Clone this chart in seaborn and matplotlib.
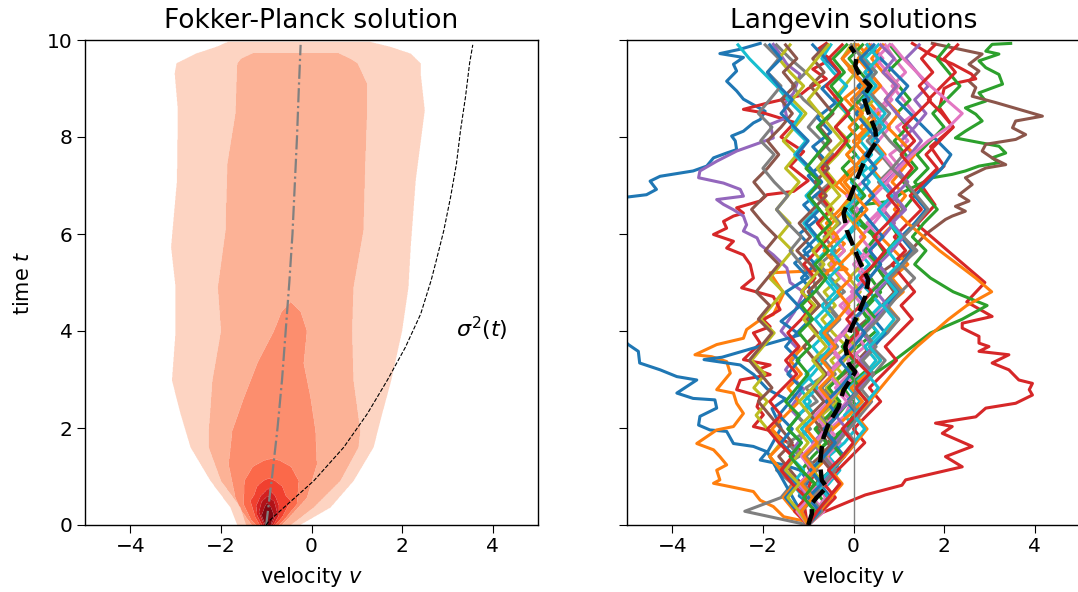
import numpy as np
import pandas as pd
import matplotlib
matplotlib.use("Agg")
import matplotlib.pyplot as plt
import seaborn as sns

# ---------------- Left panel: contour bands of the Fokker-Planck density ----------------
# each level: times, left boundary v, right boundary v
lev1_t = [0.0, 0.36, 0.91, 1.6, 2.29, 2.98, 4.0, 4.9, 5.73, 7.1, 8.55, 9.31, 9.52, 9.72, 9.86, 9.96]
lev1_l = [-1.64, -1.79, -2.23, -2.67, -2.89, -3.08, -3.0, -3.0, -3.1, -2.97, -2.95, -3.02, -2.98, -2.55, -2.1, -1.85]
lev1_r = [-0.25, 0.42, 0.93, 1.37, 1.56, 1.76, 2.0, 2.14, 2.19, 2.3, 2.5, 2.41, 2.41, 2.19, 1.74, 1.3]

lev2_t = [0.0, 0.36, 0.91, 1.6, 1.94, 2.98, 4.0, 4.9, 6.07, 7.45, 8.49, 9.1, 9.52, 9.62, 9.73]
lev2_l = [-1.45, -1.57, -2.0, -2.27, -2.27, -2.19, -2.0, -2.07, -1.9, -1.86, -1.68, -1.66, -1.64, -1.55, -1.3]
lev2_r = [-0.45, 0.05, 0.64, 1.04, 1.08, 0.93, 0.9, 0.93, 1.15, 1.19, 1.23, 1.23, 1.02, 0.85, 0.6]

lev3_t = [0.0, 0.3, 0.56, 1.25, 1.94, 2.63, 3.33, 4.0, 4.4, 4.6]
lev3_l = [-1.32, -1.55, -1.68, -1.83, -1.75, -1.49, -1.2, -0.83, -0.66, -0.46]
lev3_r = [-0.65, -0.35, -0.1, 0.12, 0.09, -0.02, -0.17, -0.1, -0.24, -0.46]

lev4_t = [0.0, 0.1, 0.43, 0.91, 1.2, 1.33, 1.37]
lev4_l = [-1.22, -1.33, -1.5, -1.48, -1.3, -1.05, -0.88]
lev4_r = [-0.72, -0.61, -0.32, -0.28, -0.45, -0.7, -0.88]

lev5_t = [0.0, 0.16, 0.5, 0.61, 0.8, 0.92, 0.96]
lev5_l = [-1.14, -1.24, -1.35, -1.27, -1.2, -1.05, -0.94]
lev5_r = [-0.8, -0.65, -0.46, -0.57, -0.65, -0.82, -0.94]

lev6_t = [0.0, 0.2, 0.4, 0.6, 0.75]
lev6_l = [-1.09, -1.2, -1.22, -1.12, -0.96]
lev6_r = [-0.84, -0.72, -0.72, -0.8, -0.96]

lev7_t = [0.0, 0.27, 0.48, 0.6]
lev7_l = [-1.05, -1.16, -1.1, -0.97]
lev7_r = [-0.88, -0.76, -0.82, -0.97]

lev8_t = [0.0, 0.2, 0.38, 0.46]
lev8_l = [-1.02, -1.1, -1.03, -0.98]
lev8_r = [-0.9, -0.83, -0.9, -0.98]

# mean velocity (dash-dot) and sigma^2 curve (dashed)
mean_t = [0, 1, 2, 3, 4, 5, 6, 7, 8, 9, 9.9]
mean_v = [-1.0, -0.87, -0.75, -0.65, -0.57, -0.49, -0.42, -0.37, -0.32, -0.28, -0.24]

sig_t = [0.0, 0.08, 0.36, 0.91, 1.6, 2.29, 2.98, 3.66, 4.35, 5.04, 5.4, 6.07, 6.76, 7.45, 8.14, 8.83, 9.52, 9.9]
sig_v = [-1.0, -0.94, -0.61, 0.05, 0.71, 1.23, 1.67, 2.07, 2.41, 2.64, 2.74, 2.92, 3.07, 3.2, 3.29, 3.4, 3.49, 3.56]

# ---------------- Right panel: Langevin trajectories ----------------
blue1_t = [0, 0.3, 0.6, 0.9, 1.13, 1.24, 1.34, 1.51, 1.62, 1.68, 1.93, 1.96, 2.06, 2.24, 2.41, 2.58, 2.61, 2.72, 2.99, 3.06,
           3.2, 3.34, 3.58, 3.72, 4.2, 5.0, 6.0, 6.76, 6.81, 6.92, 7.09, 7.19, 7.3, 7.4, 7.57, 7.67, 7.74, 7.92, 8.02, 8.12,
           8.29, 8.36, 8.53, 8.78, 8.95, 9.15, 9.36, 9.5, 9.64, 9.72, 9.81, 9.93]
blue1_v = [-1.0, -0.8, -1.2, -1.0, -1.18, -1.54, -2.06, -1.91, -2.21, -2.65, -2.8, -3.17, -3.42, -3.39, -3.02, -3.06, -3.54, -3.9, -3.46, -3.9,
           -4.27, -4.72, -4.75, -4.97, -5.5, -6.0, -5.6, -5.01, -4.57, -4.35, -4.49, -4.27, -3.54, -3.24, -3.09, -2.8, -2.58, -2.61, -2.69, -2.43,
           -2.21, -2.06, -1.95, -2.43, -2.58, -2.8, -2.58, -2.65, -2.43, -2.95, -2.5, -2.06]

orange1_t = [0, 0.07, 0.17, 0.38, 0.51, 0.69, 0.79, 0.86, 0.93, 1.13, 1.24, 1.41, 1.55, 1.68, 1.96, 2.03, 2.3, 2.51, 2.72, 2.79,
             3.13, 3.37, 3.47, 3.51, 3.72, 3.85, 4.03, 4.23, 4.34, 4.78, 5.0, 5.2, 5.27, 5.5, 5.8, 6.1, 6.4, 6.7, 7.0, 7.3,
             7.6, 7.9, 8.2, 8.5, 8.8, 9.1, 9.4, 9.7, 9.9]
orange1_v = [-1.0, -1.03, -1.54, -1.77, -2.06, -2.21, -2.72, -3.09, -2.95, -3.02, -2.8, -2.95, -3.09, -3.46, -3.02, -2.65, -2.43, -2.58, -2.65, -3.02,
             -2.72, -2.8, -3.13, -3.5, -3.02, -2.43, -2.36, -2.06, -1.77, -1.54, -1.7, -1.84, -0.14, -0.5, -0.2, -0.6, -0.3, 0.0, -0.4, -0.1,
             0.3, 0.0, 0.4, 0.1, -0.2, 0.2, -0.1, 0.3, 0.1]

green1_t = [0, 0.4, 0.8, 1.2, 1.6, 2.0, 2.4, 2.8, 3.2, 3.6, 4.0, 4.4, 4.8, 5.2, 5.6, 6.0, 6.3, 6.61, 6.68, 6.85,
            7.02, 7.16, 7.23, 7.3, 7.4, 7.47, 7.57, 7.67, 7.81, 7.98, 8.12, 8.33, 8.47, 8.6, 8.74, 8.91, 9.09, 9.29, 9.43, 9.57,
            9.71, 9.77, 9.91, 9.93]
green1_v = [-1.0, -0.6, -0.9, -0.4, -0.7, -0.2, 0.1, -0.2, 0.3, 0.0, 0.5, 0.2, 0.6, 0.3, 0.7, 0.4, 0.0, 0.26, 0.85, 1.07,
            1.44, 1.74, 2.18, 2.47, 2.77, 3.21, 3.06, 3.36, 3.21, 2.25, 2.47, 2.84, 2.7, 2.47, 2.92, 2.77, 3.29, 3.21, 2.92, 2.77,
            3.21, 2.92, 3.06, 3.47]

red1_t = [0, 0.07, 0.51, 1.0, 1.55, 1.75, 1.93, 2.03, 2.27, 2.44, 2.65, 2.79, 2.99, 3.1, 3.2, 3.3, 3.41, 3.61, 3.75, 3.96,
          4.09, 4.23, 4.44, 4.71, 4.89, 5.09, 5.37, 5.57, 5.71, 5.85, 5.99, 6.12, 6.26, 6.37, 6.43, 6.54, 6.68, 6.81, 6.88, 7.1,
          7.4, 7.7, 8.0, 8.3, 8.5, 8.57, 8.7, 8.85, 9.0, 9.2, 9.4, 9.6, 9.8, 9.93]
red1_v = [-1.0, -1.03, -1.1, -0.9, -1.18, -1.54, -1.77, -2.21, -1.99, -2.13, -2.06, -2.58, -2.5, -1.84, -2.13, -1.84, -2.43, -2.21, -2.06, -2.21,
          -1.84, -1.99, -1.62, -1.77, -2.47, -2.21, -2.28, -2.43, -2.8, -2.65, -3.09, -2.8, -2.87, -2.65, -2.43, -2.58, -2.06, -1.91, -1.32, -1.0,
          -1.4, -1.1, -1.6, -1.3, -2.0, -2.43, -1.9, -1.2, -1.0, -0.6, -0.9, -0.5, -0.8, -0.6]

purple1_t = [0, 0.4, 0.8, 1.2, 1.6, 2.0, 2.4, 2.8, 3.2, 3.6, 4.0, 4.4, 4.8, 5.0, 5.3, 5.57, 5.78, 5.92, 6.06, 6.19,
             6.37, 6.5, 6.61, 6.71, 6.78, 6.92, 7.05, 7.16, 7.3, 7.5, 7.71, 7.98, 8.26, 8.4, 8.67, 8.91, 9.29, 9.5, 9.71, 9.91]
purple1_v = [-1.0, -0.8, -1.2, -0.9, -1.3, -1.0, -1.4, -1.1, -1.5, -1.2, -1.6, -1.3, -1.1, -1.4, -1.47, -1.77, -2.06, -2.13, -2.43, -2.36,
             -2.43, -2.65, -2.87, -3.02, -2.43, -2.5, -2.87, -3.42, -3.39, -3.02, -2.58, -1.77, -1.84, -1.47, -1.54, -1.32, -1.18, -1.47, -1.62, -1.77]

brown1_t = [0, 0.4, 0.8, 1.2, 1.6, 2.0, 2.4, 2.8, 3.2, 3.6, 4.0, 4.4, 4.8, 5.2, 5.6, 6.0, 6.3, 6.37, 6.47, 6.57,
            6.68, 6.81, 7.02, 7.16, 7.36, 7.43, 7.57, 7.71, 7.85, 7.95, 8.05, 8.19, 8.33, 8.43, 8.71, 8.84, 9.02, 9.15, 9.36, 9.5,
            9.71, 9.93]
brown1_v = [-1.0, -1.2, -0.7, -1.0, -0.5, -0.8, -0.3, -0.6, -0.1, 0.3, 0.0, 0.5, 0.9, 0.6, 1.2, 1.6, 2.03, 2.18, 2.47, 2.25,
            2.55, 2.33, 2.62, 2.47, 2.92, 3.36, 3.06, 2.84, 2.92, 3.58, 3.8, 3.51, 3.58, 4.17, 3.14, 2.62, 2.7, 2.55, 2.77, 2.55,
            2.84, 1.74]

blue2_t = [0, 0.5, 1.0, 1.5, 2.0, 2.4, 2.6, 2.8, 3.1, 3.3, 3.41, 3.46, 3.65, 3.92, 4.2, 4.5, 4.8, 5.1, 5.4, 5.7,
           6.0, 6.3, 6.6, 6.9, 7.2, 7.5, 7.8, 8.1, 8.4, 8.7, 9.0, 9.3, 9.6, 9.9]
blue2_v = [-1.0, -1.3, -1.6, -1.9, -1.6, -1.8, -1.5, -1.9, -2.2, -2.5, -3.3, -2.9, -2.2, -1.18, -1.6, -1.2, -1.5, -1.0, -1.3, -0.9,
           -1.2, -0.8, -1.1, -0.7, -1.0, -0.6, -0.9, -0.5, -0.8, -0.4, -0.7, -0.3, -0.6, -0.9]

bigred_t = [0, 0.25, 0.51, 0.62, 0.82, 0.93, 1.2, 1.41, 1.62, 1.89, 2.03, 2.1, 2.23, 2.41, 2.51, 2.68, 2.79, 2.92, 2.99, 3.2,
            3.34, 3.51, 3.58, 3.68, 3.75, 3.89, 4.06, 4.16, 4.3, 4.6, 5.0, 5.4, 5.8, 6.2, 6.6, 7.0, 7.4, 7.8, 8.2, 8.6,
            9.0, 9.1, 9.2, 9.3, 9.5, 9.7, 9.93]
bigred_v = [-1.0, -0.7, -0.03, 0.26, 1.07, 1.15, 2.4, 2.03, 2.62, 1.96, 2.18, 1.81, 2.7, 2.92, 3.58, 3.95, 3.88, 3.95, 3.65, 3.43,
            3.06, 3.43, 2.77, 2.99, 2.77, 2.77, 2.4, 2.4, 3.06, 2.5, 2.9, 2.4, 1.9, 1.4, 1.8, 1.5, 2.0, 1.7, 2.2, 1.9,
            2.0, 2.2, 2.7, 2.6, 2.2, 1.7, 1.3]

# trajectories sampled evenly between t = 0 and t = 9.9
pink1 = [-1.00, -0.85, -0.62, -0.80, -0.45, -0.60, -0.30, -0.52, -0.18, -0.05, -0.30, 0.10, -0.12, 0.25, 0.05, 0.40, 0.62, 0.35, 0.70, 0.48, 0.22, 0.55, 0.30, 0.68, 0.95, 0.72, 1.05, 0.80, 1.20, 0.95, 1.35, 1.10, 0.85, 1.15, 0.90, 0.70]
gray1 = [-1.00, -2.40, -1.60, -1.35, -1.70, -1.20, -1.45, -0.95, -1.25, -0.80, -1.05, -0.60, -0.85, -0.40, -0.70, -0.35, -0.60, -0.20, -0.50, -0.75, -0.40, -0.65, -0.30, -0.55, -0.85, -0.50, -0.80, -0.45, -0.70, -1.00, -0.75, -1.10, -1.35, -1.05, -1.40, -1.70]
olive1 = [-1.00, -0.75, -1.05, -0.70, -0.95, -0.55, -0.80, -0.45, -0.70, -0.35, -0.60, -0.25, -0.50, -0.15, -0.45, -0.70, -0.40, -0.65, -0.30, -0.55, -0.20, -0.50, -0.75, -0.45, -0.70, -0.40, -0.65, -0.35, -0.10, -0.40, -0.15, -0.45, -0.20, 0.05, -0.25, -0.05]
cyan1 = [-1.00, -0.70, -0.90, -0.55, -0.30, -0.55, -0.20, 0.05, -0.20, 0.15, -0.10, 0.25, 0.50, 0.25, 0.55, 0.30, 0.60, 0.35, 0.05, 0.35, 0.10, -0.15, 0.15, -0.10, 0.20, -0.05, 0.30, 0.05, -0.20, 0.10, -0.15, -0.40, -0.15, -0.45, -0.70, -0.50]
orange2 = [-1.00, -1.20, -0.90, -1.15, -0.85, -0.55, -0.80, -0.45, -0.10, 0.20, -0.05, 0.30, 0.60, 0.35, 0.70, 1.00, 0.75, 1.10, 0.85, 1.20, 0.90, 0.60, 0.90, 0.65, 0.35, 0.65, 0.40, 0.70, 0.45, 0.15, 0.45, 0.20, 0.50, 0.25, 0.55, 0.30]
green2 = [-1.00, -0.80, -1.10, -0.85, -1.15, -0.90, -0.60, -0.85, -0.55, -0.30, -0.55, -0.25, 0.00, -0.25, 0.05, 0.35, 0.10, 0.40, 0.70, 0.45, 0.75, 1.00, 0.80, 1.10, 1.35, 1.10, 1.40, 1.15, 0.90, 1.20, 0.95, 1.25, 1.00, 0.75, 1.05, 0.80]
pink2 = [-1.00, -0.65, -0.90, -0.60, -0.35, -0.60, -0.30, -0.55, -0.80, -0.55, -0.85, -0.60, -0.30, -0.55, -0.25, 0.00, -0.30, 0.05, -0.25, -0.50, -0.20, -0.45, -0.15, 0.10, -0.15, 0.20, 0.50, 0.25, 0.55, 0.80, 0.55, 0.85, 0.60, 0.35, 0.65, 0.40]
gray2 = [-1.00, -0.80, -0.55, -0.30, -0.55, -0.20, 0.05, -0.20, 0.15, 0.40, 0.15, 0.45, 0.70, 0.40, 0.75, 1.00, 0.70, 1.05, 1.35, 1.05, 1.40, 1.10, 0.80, 1.10, 0.85, 0.55, 0.85, 0.60, 0.30, 0.60, 0.35, 0.05, 0.30, 0.00, -0.25, 0.05]
olive2 = [-1.00, -1.25, -1.50, -1.30, -1.60, -1.85, -1.60, -1.90, -2.15, -1.90, -2.20, -1.95, -2.25, -2.00, -1.75, -2.05, -1.80, -1.55, -1.85, -1.60, -1.35, -1.65, -1.40, -1.70, -1.45, -1.20, -1.50, -1.25, -1.55, -1.30, -1.05, -1.35, -1.10, -1.40, -1.65, -1.40]
cyan2 = [-1.00, -1.20, -0.95, -0.70, -0.95, -0.65, -0.90, -1.15, -0.85, -1.10, -0.80, -1.05, -0.75, -0.50, -0.75, -0.45, -0.70, -0.40, -0.65, -0.90, -0.60, -0.85, -1.10, -0.80, -1.05, -0.75, -1.00, -1.30, -1.05, -1.35, -1.15, -1.45, -1.70, -2.00, -2.30, -2.55]
blue3 = [-1.00, -0.75, -0.50, -0.75, -0.45, -0.20, -0.45, -0.15, 0.10, -0.15, 0.15, 0.40, 0.15, 0.45, 0.70, 0.45, 0.75, 1.00, 0.75, 1.05, 1.30, 1.05, 1.35, 1.60, 1.35, 1.65, 1.95, 2.15, 1.85, 1.55, 1.25, 0.95, 1.20, 0.90, 0.60, 0.35]
orange3 = [-1.00, -1.30, -1.55, -1.30, -1.60, -1.85, -1.55, -1.80, -1.50, -1.20, -1.45, -1.15, -1.40, -1.10, -0.80, -1.05, -0.75, -1.00, -0.70, -0.40, -0.65, -0.35, -0.60, -0.30, -0.05, -0.30, 0.00, 0.25, 0.00, 0.30, 0.55, 0.30, 0.60, 0.35, 0.10, 0.35]
green3 = [-1.00, -0.80, -0.55, -0.80, -0.50, -0.25, -0.50, -0.20, 0.05, 0.30, 0.05, 0.45, 0.90, 1.30, 1.70, 2.40, 2.95, 2.20, 1.70, 1.35, 1.60, 1.30, 1.55, 1.85, 1.60, 1.35, 1.65, 1.40, 1.70, 2.00, 1.75, 2.05, 2.35, 2.10, 1.85, 2.10]
red3 = [-1.00, -0.70, -0.40, -0.65, -0.35, -0.05, 0.25, 0.00, 0.30, 0.60, 0.35, 0.65, 0.95, 0.70, 1.00, 1.30, 1.05, 1.35, 1.10, 0.85, 1.15, 0.90, 1.20, 1.50, 1.25, 1.55, 1.85, 1.60, 1.90, 2.20, 1.95, 1.65, 1.95, 2.25, 2.00, 2.30]
purple2 = [-1.00, -1.25, -0.95, -1.20, -0.90, -0.65, -0.90, -0.60, -0.35, -0.60, -0.30, -0.55, -0.25, 0.00, -0.25, 0.05, 0.30, 0.05, 0.35, 0.60, 0.35, 0.65, 0.90, 0.65, 0.95, 0.70, 1.00, 1.30, 1.05, 1.35, 1.60, 1.35, 1.65, 1.40, 1.15, 1.45]
brown2 = [-1.00, -1.20, -0.90, -1.15, -1.40, -1.65, -1.35, -1.60, -1.85, -2.10, -1.80, -2.05, -2.30, -2.05, -1.80, -2.10, -1.85, -2.15, -1.90, -1.65, -1.95, -1.70, -2.00, -2.25, -1.95, -2.20, -1.90, -1.65, -1.90, -1.60, -1.35, -1.60, -1.30, -1.55, -1.25, -1.50]
pink3 = [-1.00, -0.80, -1.05, -0.75, -0.50, -0.75, -0.45, -0.70, -0.40, -0.15, -0.40, -0.10, 0.15, -0.10, 0.20, 0.45, 0.20, -0.05, 0.25, 0.00, 0.30, 0.55, 0.30, 0.60, 0.85, 0.60, 0.90, 0.65, 0.40, 0.70, 0.45, 0.75, 1.00, 0.75, 0.50, 0.80]
gray3 = [-1.00, -1.15, -0.85, -1.10, -0.80, -1.05, -0.75, -0.50, -0.75, -0.45, -0.70, -0.40, -0.65, -0.35, -0.60, -0.30, -0.55, -0.80, -0.90, -1.15, -1.40, -1.15, -1.45, -1.70, -1.45, -1.75, -2.00, -1.75, -2.05, -1.80, -2.10, -1.85, -1.60, -1.90, -1.65, -1.95]
olive3 = [-1.00, -0.70, -0.95, -0.65, -0.90, -0.60, -0.85, -0.55, -0.80, -0.50, -0.25, -0.50, -0.20, 0.05, -0.20, 0.10, -0.15, 0.15, -0.10, 0.20, -0.05, 0.25, 0.00, -0.25, 0.05, -0.20, 0.10, -0.15, 0.15, 0.40, 0.15, 0.45, 0.20, 0.50, 0.25, 0.00]
cyan3 = [-1.00, -0.85, -1.10, -1.35, -1.10, -1.40, -1.15, -1.45, -1.20, -0.95, -1.20, -0.90, -0.65, -0.90, -0.60, -0.85, -0.55, -0.30, -0.55, -0.25, -0.50, -0.20, 0.05, -0.20, 0.10, 0.35, 0.10, 0.40, 0.15, 0.45, 0.70, 0.45, 0.20, 0.50, 0.25, 0.55]
blue4 = [-1.00, -1.25, -1.50, -1.25, -1.55, -1.30, -1.60, -1.35, -1.65, -1.40, -1.15, -1.45, -1.20, -1.50, -1.25, -0.95, -1.20, -0.90, -1.15, -0.85, -1.10, -0.80, -1.05, -0.75, -1.00, -0.70, -0.95, -1.25, -1.00, -1.30, -1.60, -1.35, -1.65, -1.90, -1.60, -1.85]
orange4 = [-1.00, -0.75, -0.50, -0.25, -0.50, -0.20, 0.05, 0.30, 0.05, 0.35, 0.60, 0.85, 1.10, 1.40, 1.75, 2.10, 2.50, 3.05, 2.70, 2.30, 1.90, 1.55, 1.20, 0.90, 1.15, 0.85, 1.10, 1.35, 1.05, 0.75, 1.00, 0.70, 0.95, 0.65, 0.40, 0.65]
green4 = [-1.00, -1.20, -0.95, -0.70, -0.95, -0.65, -0.40, -0.65, -0.35, -0.10, 0.15, -0.10, 0.20, 0.45, 0.20, 0.50, 0.25, 0.55, 0.80, 0.55, 0.25, 0.50, 0.20, -0.05, 0.25, 0.00, -0.25, 0.05, -0.20, 0.10, -0.15, 0.15, 0.40, 0.15, -0.10, 0.20]
red4 = [-1.00, -1.30, -1.05, -1.35, -1.60, -1.35, -1.65, -1.90, -1.60, -1.85, -1.55, -1.25, -1.50, -1.20, -1.45, -1.15, -0.90, -1.15, -0.85, -1.10, -0.80, -0.55, -0.80, -0.50, -0.75, -0.45, -0.70, -0.40, -0.15, -0.40, -0.10, -0.35, -0.60, -0.30, -0.55, -0.25]
purple3 = [-1.00, -0.75, -1.00, -0.70, -0.45, -0.70, -0.40, -0.15, -0.40, -0.10, 0.15, 0.40, 0.15, 0.45, 0.20, 0.50, 0.75, 0.50, 0.80, 0.55, 0.85, 1.10, 0.85, 1.15, 0.90, 1.20, 0.95, 1.25, 1.50, 1.25, 0.95, 0.70, 0.95, 0.65, 0.90, 0.60]
brown3 = [-1.00, -0.80, -0.55, -0.80, -0.50, -0.75, -0.45, -0.70, -0.95, -0.65, -0.90, -0.60, -0.85, -1.10, -0.80, -1.05, -0.75, -1.00, -0.70, -0.95, -1.25, -0.95, -1.20, -0.90, -0.60, -0.85, -0.55, -0.80, -0.50, -0.75, -0.45, -0.70, -0.95, -0.65, -0.90, -0.60]
pink4 = [-1.00, -1.25, -0.95, -1.20, -0.90, -1.15, -0.85, -0.60, -0.85, -0.55, -0.30, -0.55, -0.25, -0.50, -0.20, 0.05, -0.20, 0.10, 0.35, 0.10, 0.40, 0.15, 0.45, 0.70, 0.45, 0.75, 1.00, 1.30, 1.65, 2.10, 2.40, 2.05, 1.70, 1.40, 1.10, 0.85]
gray4 = [-1.00, -0.70, -0.95, -0.65, -0.40, -0.65, -0.35, -0.10, 0.15, -0.10, 0.20, 0.45, 0.20, 0.50, 0.25, 0.55, 0.80, 1.05, 0.80, 1.10, 1.35, 1.10, 1.40, 1.65, 1.40, 1.15, 0.85, 1.10, 0.80, 0.55, 0.80, 0.50, 0.25, 0.50, 0.20, -0.05]
olive4 = [-1.00, -1.20, -1.45, -1.20, -1.50, -1.25, -1.00, -1.25, -0.95, -1.20, -0.90, -0.65, -0.90, -0.60, -0.85, -1.10, -0.85, -1.15, -0.90, -0.65, -0.90, -0.60, -0.35, -0.60, -0.30, -0.55, -0.80, -0.55, -0.25, -0.50, -0.75, -1.00, -0.75, -1.05, -0.80, -0.55]
cyan4 = [-1.00, -0.80, -0.55, -0.80, -0.50, -0.25, 0.00, 0.25, 0.00, 0.30, 0.55, 0.30, 0.60, 0.35, 0.65, 0.90, 0.65, 0.95, 0.70, 1.00, 0.75, 1.05, 0.80, 0.55, 0.85, 0.60, 0.35, 0.65, 0.40, 0.70, 0.45, 0.20, 0.50, 0.25, 0.55, 0.30]
blue5 = [-1.00, -0.75, -1.00, -0.70, -0.95, -0.65, -0.40, -0.65, -0.35, -0.60, -0.30, -0.05, -0.30, 0.00, 0.25, 0.00, 0.30, 0.05, 0.35, 0.60, 0.35, 0.65, 0.40, 0.15, 0.45, 0.20, 0.50, 0.25, 0.55, 0.30, 0.05, 0.35, 0.10, 0.40, 0.15, 0.45]
orange5 = [-1.00, -1.15, -0.90, -1.15, -0.85, -1.10, -0.80, -1.05, -0.75, -0.50, -0.75, -0.45, -0.70, -0.40, -0.65, -0.35, -0.10, -0.35, -0.05, -0.30, 0.00, 0.25, 0.00, 0.30, 0.05, -0.20, 0.10, -0.15, 0.15, -0.10, 0.20, -0.05, 0.25, 0.00, -0.25, 0.05]
green5 = [-1.00, -0.85, -1.10, -0.85, -1.15, -1.40, -1.15, -1.45, -1.20, -1.50, -1.25, -1.00, -1.25, -0.95, -1.20, -0.90, -1.15, -0.85, -0.60, -0.85, -0.55, -0.80, -0.50, -0.75, -1.00, -0.75, -1.05, -0.80, -0.55, -0.80, -0.50, -0.25, -0.50, -0.20, -0.45, -0.15]
red5 = [-1.00, -0.80, -0.55, -0.30, -0.55, -0.25, 0.00, -0.25, 0.05, 0.30, 0.05, 0.35, 0.05, -0.20, 0.10, -0.15, 0.15, 0.40, 0.15, 0.45, 0.70, 0.45, 0.75, 1.00, 0.75, 1.05, 1.30, 1.05, 1.35, 1.10, 1.40, 1.70, 1.45, 1.75, 1.50, 1.80]

# ensemble mean (black dashed)
ens_t = [0.0, 0.23, 0.44, 0.57, 0.78, 0.92, 1.26, 1.6, 1.81, 2.09, 2.43, 2.78, 2.99, 3.16, 3.33, 3.67, 4.02, 4.36, 4.71, 5.05,
         5.4, 5.74, 6.08, 6.43, 6.77, 7.12, 7.46, 7.81, 7.9, 8.15, 8.5, 8.84, 9.05, 9.25, 9.46, 9.67, 9.87]
ens_v = [-1.0, -0.92, -0.92, -0.81, -0.59, -0.7, -0.74, -0.7, -0.66, -0.55, -0.33, -0.22, -0.07, 0.04, -0.11, -0.18, -0.07, 0.11, 0.26, 0.33,
         0.15, 0.0, -0.15, -0.22, -0.07, 0.07, 0.22, 0.44, 0.51, 0.48, 0.33, 0.22, 0.37, 0.15, 0.04, 0.07, -0.07]

# ---------------- build tables ----------------
levels_list = [(lev1_t, lev1_l, lev1_r), (lev2_t, lev2_l, lev2_r), (lev3_t, lev3_l, lev3_r), (lev4_t, lev4_l, lev4_r),
               (lev5_t, lev5_l, lev5_r), (lev6_t, lev6_l, lev6_r), (lev7_t, lev7_l, lev7_r), (lev8_t, lev8_l, lev8_r)]
vg = np.linspace(-5, 5, 1201)
tg = np.linspace(0, 10, 1001)
VV, TT = np.meshgrid(vg, tg)
field = np.zeros_like(VV)
for lt, ll, lr in levels_list:
    lt = np.asarray(lt, float)
    lo = np.interp(tg, lt, ll)
    hi = np.interp(tg, lt, lr)
    valid = (tg >= lt[0]) & (tg <= lt[-1])
    field += ((VV >= lo[:, None]) & (VV <= hi[:, None]) & valid[:, None]).astype(float)

traced = [("C0", blue1_t, blue1_v), ("C1", orange1_t, orange1_v), ("C2", green1_t, green1_v),
          ("C3", red1_t, red1_v), ("C4", purple1_t, purple1_v), ("C5", brown1_t, brown1_v)]
even = [("C6", pink1), ("C7", gray1), ("C8", olive1), ("C9", cyan1)]
traced2 = [("C0", blue2_t, blue2_v)]
even2 = [("C1", orange2), ("C2", green2)]
traced3 = [("C3", bigred_t, bigred_v)]
even3 = [("C6", pink2), ("C7", gray2), ("C8", olive2), ("C9", cyan2), ("C0", blue3), ("C1", orange3),
         ("C2", green3), ("C3", red3), ("C4", purple2), ("C5", brown2), ("C6", pink3), ("C7", gray3),
         ("C8", olive3), ("C9", cyan3), ("C0", blue4), ("C1", orange4), ("C2", green4), ("C3", red4),
         ("C4", purple3), ("C5", brown3), ("C6", pink4), ("C7", gray4), ("C8", olive4), ("C9", cyan4),
         ("C0", blue5), ("C1", orange5), ("C2", green5), ("C3", red5)]

rows = []
palette = {}
tid = 0
def add(color, ts, vs):
    global tid
    for a, b in zip(ts, vs):
        rows.append((tid, a, b))
    palette[tid] = color
    tid += 1

for c, ts, vs in traced:
    add(c, ts, vs)
for c, vs in even:
    add(c, np.linspace(0, 9.9, len(vs)), vs)
for c, ts, vs in traced2:
    add(c, ts, vs)
for c, vs in even2:
    add(c, np.linspace(0, 9.9, len(vs)), vs)
for c, ts, vs in traced3:
    add(c, ts, vs)
for c, vs in even3:
    add(c, np.linspace(0, 9.9, len(vs)), vs)

df = pd.DataFrame(rows, columns=["traj", "t", "v"])
tab10 = sns.color_palette("tab10")
pal = {k: tab10[int(c[1:])] for k, c in palette.items()}

# ---------------- figure ----------------
plt.rcParams.update({
    "font.family": ["DejaVu Sans"],
    "font.size": 15,
    "axes.titlesize": 19,
    "axes.titlepad": 9,
    "axes.labelsize": 15,
    "xtick.labelsize": 14.5,
    "ytick.labelsize": 14.5,
    "xtick.major.size": 5.5,
    "ytick.major.size": 5.5,
    "axes.linewidth": 1.0,
})

fig = plt.figure(figsize=(10.78, 5.92), dpi=100)
W, H = 1078.0, 592.0
ax1 = fig.add_axes([85 / W, 67 / H, 453 / W, 485 / H])
ax2 = fig.add_axes([627 / W, 67 / H, 453 / W, 485 / H], sharey=ax1)

cmap = plt.get_cmap("Reds")
band_colors = [cmap((k + 0.5) / 9.0) for k in range(1, 9)]
ax1.contourf(VV, TT, field, levels=np.arange(0.5, 9.0, 1.0), colors=band_colors, antialiased=True)

sns.lineplot(x=mean_v, y=mean_t, sort=False, estimator=None, color="gray", linestyle="-.", linewidth=1.6, ax=ax1)
sns.lineplot(x=sig_v, y=sig_t, sort=False, estimator=None, color="black", linestyle="--", linewidth=0.8, ax=ax1)
ax1.text(3.2, 4.05, r"$\sigma^2(t)$", fontsize=16, va="center", ha="left")

ax1.set_xlim(-5, 5)
ax1.set_ylim(0, 10)
ax1.set_xticks([-4, -2, 0, 2, 4])
ax1.set_yticks([0, 2, 4, 6, 8, 10])
ax1.set_xlabel(r"velocity $v$", labelpad=6)
ax1.set_ylabel(r"time $t$", labelpad=10)
ax1.set_title("Fokker-Planck solution")

sns.lineplot(data=df, x="v", y="t", hue="traj", palette=pal, units="traj", estimator=None, sort=False,
             legend=False, linewidth=2.2, ax=ax2)
ax2.axvline(0, color="gray", linewidth=1.0, zorder=5)
sns.lineplot(x=ens_v, y=ens_t, sort=False, estimator=None, color="black", linestyle="--", linewidth=3.2, ax=ax2, zorder=6)

ax2.set_xlim(-5, 5)
ax2.set_ylim(0, 10)
ax2.set_xticks([-4, -2, 0, 2, 4])
ax2.set_xlabel(r"velocity $v$", labelpad=6)
ax2.set_ylabel("")
ax2.set_title("Langevin solutions")
plt.setp(ax2.get_yticklabels(), visible=False)

fig.savefig("out.png", dpi=100)
